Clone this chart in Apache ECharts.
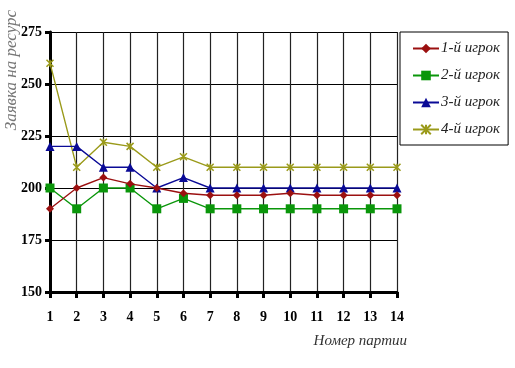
<!DOCTYPE html>
<html><head><meta charset="utf-8">
<script src="https://cdn.jsdelivr.net/npm/echarts@6/dist/echarts.min.js"></script>
<style>html,body{margin:0;padding:0;background:#fff}#c{width:515px;height:368px}</style>
</head><body><div id="c"></div>
<script>
const categories = ['1','2','3','4','5','6','7','8','9','10','11','12','13','14'];
const seriesNames = ['1-й игрок','2-й игрок','3-й игрок','4-й игрок'];
const player1 = [190,200,205,202,200,197.5,196.5,196.5,196.5,197.5,196.5,196.5,196.5,196.5];
const player2 = [200,190,200,200,190,195,190,190,190,190,190,190,190,190];
const player3 = [220,220,210,210,200,205,200,200,200,200,200,200,200,200];
const player4 = [260,210,222,220,210,215,210,210,210,210,210,210,210,210];
const yTicks = [150,175,200,225,250,275];

const colors = ['#9b1010','#0a960a','#0a0a96','#9a9a1a'];
const symbols = ['diamond','rect','triangle','path://M0,0L10,10M10,0L0,10M5,0L5,10'];
const sizes = [8,9,9,7];
const datas = [player1,player2,player3,player4];
const serif = '"Liberation Serif","DejaVu Serif",serif';

const chart = echarts.init(document.getElementById('c'), null, {renderer:'canvas'});
chart.setOption({
  animation:false,
  backgroundColor:'#fff',
  grid:{left:50,right:118,top:32,bottom:76},
  legend:{
    orient:'vertical', left:400, top:32,
    padding:[9,8,8,12], itemGap:12, itemWidth:26, itemHeight:12,
    borderColor:'#000', borderWidth:1,
    textStyle:{fontFamily:serif, fontStyle:'italic', fontSize:15, color:'#222', padding:[0,0,0,-3]},
    data:seriesNames
  },
  xAxis:{
    type:'category', data:categories, boundaryGap:false,
    axisLine:{lineStyle:{color:'#000',width:3}},
    axisTick:{show:true,length:6,lineStyle:{color:'#000',width:3}},
    axisLabel:{fontFamily:serif,fontWeight:'bold',fontSize:14,color:'#000',margin:18},
    splitLine:{show:true,lineStyle:{color:'#222',width:1.2}}
  },
  yAxis:{
    type:'value', min:yTicks[0], max:yTicks[yTicks.length-1], interval:25,
    axisLine:{show:true,lineStyle:{color:'#000',width:3}},
    axisTick:{show:true,length:5,lineStyle:{color:'#000',width:3}},
    axisLabel:{fontFamily:serif,fontWeight:'bold',fontSize:14,color:'#000',margin:8},
    splitLine:{show:true,lineStyle:{color:'#000',width:1}}
  },
  graphic:[
    {type:'text', left:3, top:10, rotation:Math.PI/2, style:{text:'Заявка на ресурс', font:'italic 17px '+serif, fill:'#777'}},
    {type:'text', right:108, top:334, style:{text:'Номер партии', font:'italic 15px '+serif, fill:'#333'}}
  ],
  series: datas.map((d,i)=>({
    name:seriesNames[i], type:'line', data:d,
    symbol:symbols[i], symbolSize:sizes[i],
    lineStyle:{color:colors[i],width:1.4},
    itemStyle: i===3 ? {color:'rgba(0,0,0,0)',borderColor:colors[i],borderWidth:1.5} : {color:colors[i]},
    z: 10-i
  }))
});
</script></body></html>
